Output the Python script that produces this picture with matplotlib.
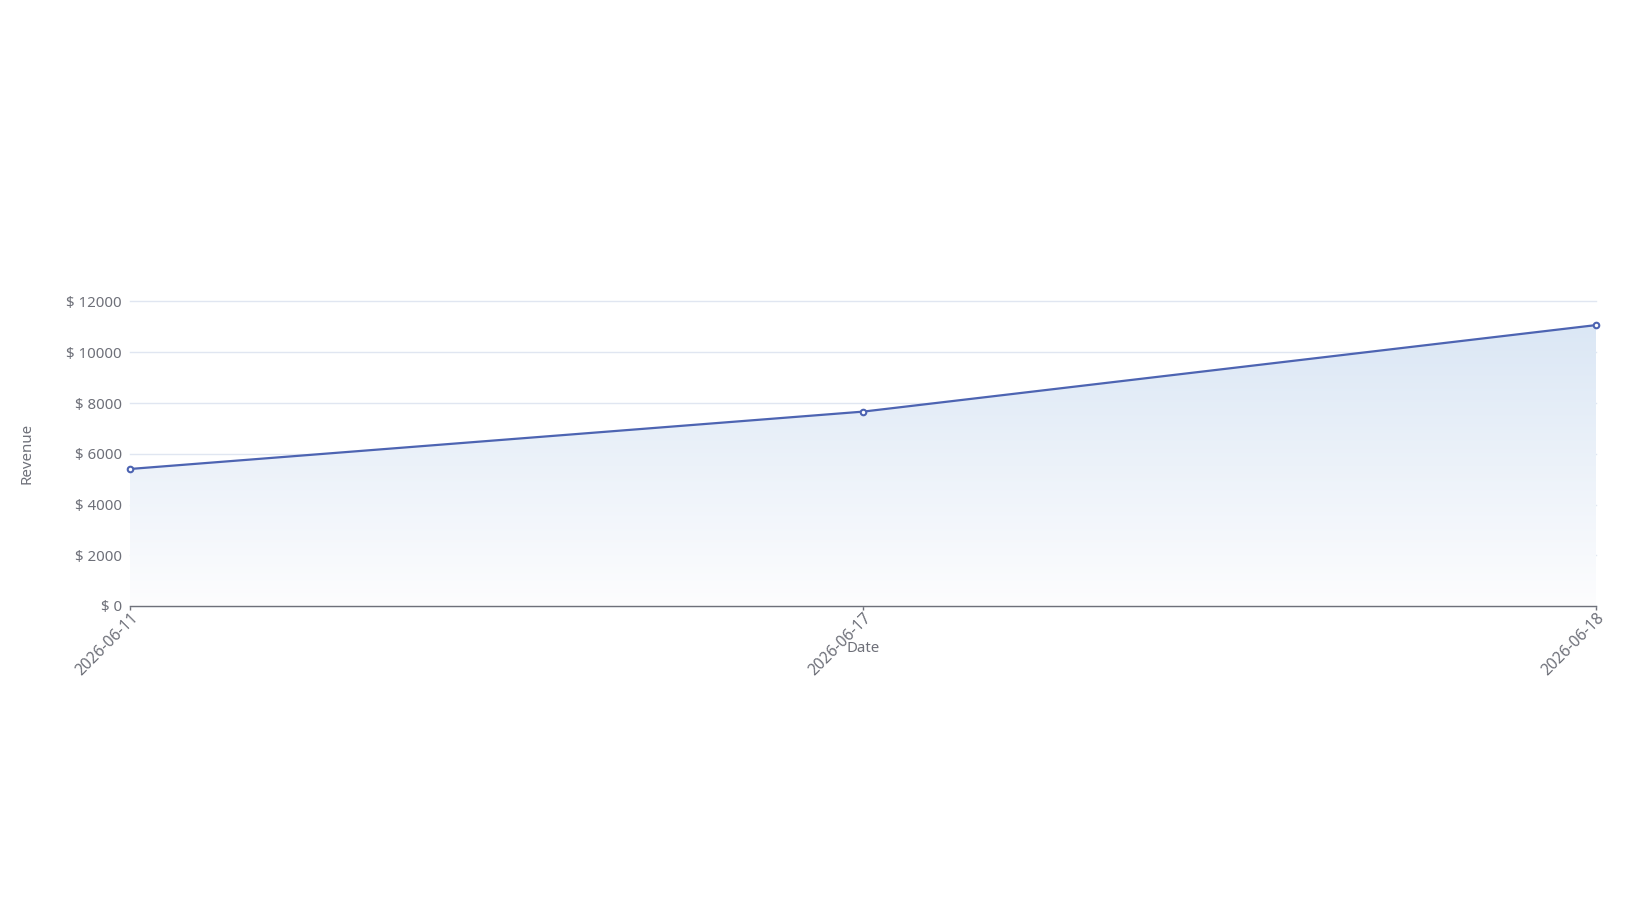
import matplotlib
matplotlib.use("Agg")
import matplotlib.pyplot as plt
import numpy as np
from matplotlib.colors import LinearSegmentedColormap
from matplotlib.patches import Polygon

dates = ["2026-06-11", "2026-06-17", "2026-06-18"]
revenue = [5400, 7660, 11070]
yticks = [0, 2000, 4000, 6000, 8000, 10000, 12000]

plt.rcParams['font.family'] = ['Noto Sans', 'DejaVu Sans']

W, H = 1640, 924
fig = plt.figure(figsize=(W / 100, H / 100), dpi=100)
left, right = 130 / W, 1596 / W
bottom, top = 1 - 606 / H, 1 - 301.5 / H
ax = fig.add_axes([left, bottom, right - left, top - bottom])

x = np.arange(len(dates))
ax.set_xlim(0, len(dates) - 1)
ax.set_ylim(0, 12000)

line_color = "#4d64b2"
label_color = "#6e7079"

# gradient fill under the line
ymax = max(revenue)
cmap = LinearSegmentedColormap.from_list("g", ["#fdfdfe", "#dbe7f5"])
grad = np.linspace(0, 1, 256).reshape(-1, 1)
im = ax.imshow(grad, extent=[0, len(dates) - 1, 0, ymax], origin="lower",
               cmap=cmap, aspect="auto", zorder=1)
verts = [(0, 0)] + list(zip(x, revenue)) + [(len(dates) - 1, 0)]
poly = Polygon(verts, closed=True, facecolor="none", edgecolor="none")
ax.add_patch(poly)
im.set_clip_path(poly)

ax.plot(x, revenue, color=line_color, lw=1.6, zorder=3,
        marker="o", markersize=4, markerfacecolor="white",
        markeredgecolor=line_color, markeredgewidth=1.5, clip_on=False)

ax.set_yticks(yticks)
ax.set_yticklabels([f"$ {v}" for v in yticks])
ax.yaxis.grid(True, color="#e0e6f1", lw=1)
for gl in ax.get_ygridlines():
    gl.set_clip_on(False)
ax.set_axisbelow(True)
ax.tick_params(axis="y", length=0, pad=6, labelsize=10.8, labelcolor=label_color)

ax.set_xticks(x)
ax.set_xticklabels(dates, rotation=45, ha="right", va="top",
                   rotation_mode="anchor")
ax.tick_params(axis="x", length=3.2, width=1, color=label_color, pad=0,
               labelsize=11.2, labelcolor=label_color)

for s in ["top", "right", "left"]:
    ax.spines[s].set_visible(False)
ax.spines["bottom"].set_color(label_color)
ax.spines["bottom"].set_linewidth(1)

fig.text(863 / W, 1 - 648 / H, "Date", ha="center", va="center",
         fontsize=10.8, color=label_color)
fig.text(27 / W, 1 - 453 / H, "Revenue", ha="center", va="center",
         rotation=90, fontsize=10.8, color=label_color)

fig.savefig("out.png", dpi=100, facecolor="white")
